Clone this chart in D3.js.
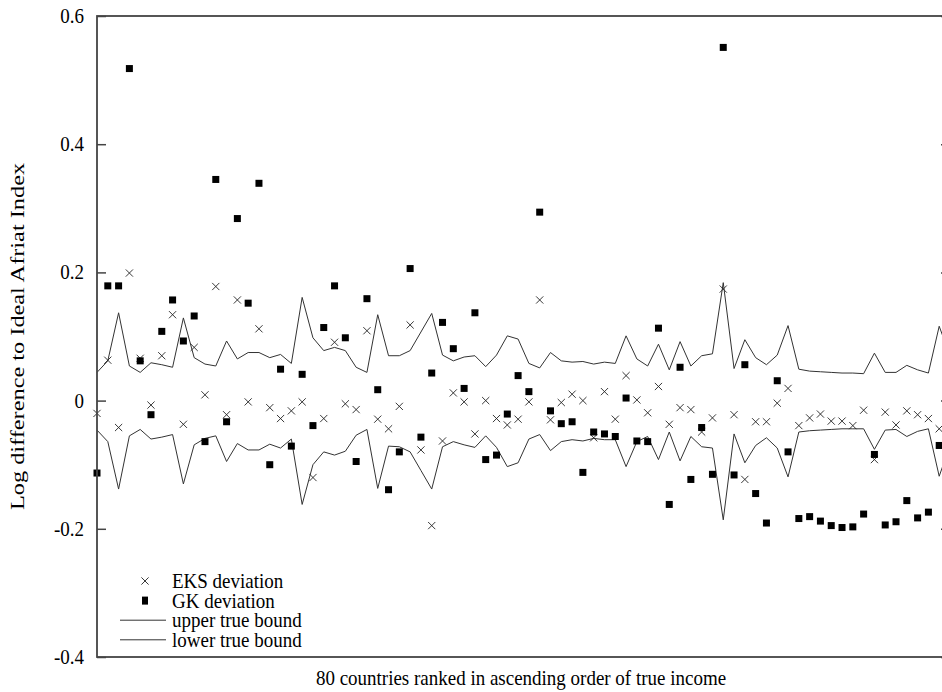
<!DOCTYPE html>
<html>
<head>
<meta charset="utf-8">
<script src="https://cdn.jsdelivr.net/npm/d3@7"></script>
<style>
    body { margin: 0; background: white; }
    svg { display: block; }
</style>
</head>
<body>
<div id="viz"></div>
<script>
// data, one value per country (1..80)
const eks_deviation = [
    -0.020, 0.063, -0.042, 0.199, 0.066, -0.007, 0.070, 0.134, -0.037, 0.083,
    0.009, 0.178, -0.022, 0.157, -0.002, 0.112, -0.011, -0.028, -0.016, -0.002,
    -0.120, -0.028, 0.091, -0.005, -0.014, 0.109, -0.029, -0.044, -0.009, 0.118,
    -0.077, -0.195, -0.063, 0.012, -0.002, -0.052, 0.000, -0.028, -0.038, -0.029,
    -0.002, 0.157, -0.030, -0.003, 0.010, 0.000, -0.058, 0.014, -0.029, 0.039,
    0.001, -0.019, 0.022, -0.037, -0.011, -0.014, -0.049, -0.027, 0.174, -0.022,
    -0.123, -0.033, -0.033, -0.004, 0.019, -0.039, -0.027, -0.021, -0.032, -0.032,
    -0.039, -0.015, -0.092, -0.018, -0.038, -0.016, -0.022, -0.028, -0.044, -0.030
];
const gk_deviation = [
    -0.113, 0.179, 0.179, 0.518, 0.062, -0.022, 0.108, 0.157, 0.093, 0.132,
    -0.064, 0.345, -0.033, 0.284, 0.152, 0.339, -0.100, 0.049, -0.071, 0.041,
    -0.039, 0.114, 0.179, 0.098, -0.095, 0.159, 0.017, -0.139, -0.080, 0.206,
    -0.057, 0.043, 0.122, 0.081, 0.019, 0.137, -0.092, -0.085, -0.021, 0.039,
    0.014, 0.294, -0.016, -0.036, -0.033, -0.112, -0.049, -0.052, -0.056, 0.004,
    -0.063, -0.064, 0.113, -0.162, 0.052, -0.123, -0.042, -0.115, 0.551, -0.116,
    0.056, -0.145, -0.191, 0.031, -0.080, -0.184, -0.181, -0.188, -0.195, -0.198,
    -0.197, -0.177, -0.084, -0.194, -0.189, -0.156, -0.183, -0.174, -0.070, -0.190
];
const upper_bound = [
    0.044, 0.062, 0.137, 0.054, 0.044, 0.059, 0.056, 0.052, 0.129, 0.067,
    0.057, 0.054, 0.093, 0.065, 0.075, 0.075, 0.067, 0.072, 0.058, 0.161,
    0.098, 0.078, 0.083, 0.078, 0.052, 0.044, 0.134, 0.070, 0.070, 0.078,
    0.107, 0.136, 0.071, 0.062, 0.068, 0.070, 0.053, 0.071, 0.101, 0.096,
    0.058, 0.051, 0.075, 0.062, 0.060, 0.061, 0.057, 0.060, 0.058, 0.101,
    0.065, 0.054, 0.088, 0.048, 0.092, 0.054, 0.070, 0.073, 0.184, 0.050,
    0.095, 0.067, 0.056, 0.071, 0.117, 0.049, 0.046, 0.045, 0.044, 0.043,
    0.043, 0.042, 0.074, 0.044, 0.044, 0.055, 0.048, 0.043, 0.116, 0.070
];
const lower_bound = [
    -0.046, -0.064, -0.138, -0.055, -0.045, -0.060, -0.057, -0.053, -0.130, -0.069,
    -0.059, -0.055, -0.095, -0.067, -0.077, -0.077, -0.068, -0.074, -0.060, -0.162,
    -0.100, -0.080, -0.085, -0.079, -0.054, -0.045, -0.137, -0.071, -0.072, -0.080,
    -0.109, -0.138, -0.072, -0.064, -0.069, -0.073, -0.055, -0.073, -0.103, -0.097,
    -0.060, -0.053, -0.078, -0.064, -0.061, -0.063, -0.059, -0.061, -0.061, -0.103,
    -0.064, -0.056, -0.092, -0.049, -0.094, -0.056, -0.072, -0.074, -0.186, -0.052,
    -0.097, -0.070, -0.058, -0.074, -0.119, -0.049, -0.047, -0.046, -0.045, -0.044,
    -0.044, -0.044, -0.076, -0.046, -0.045, -0.056, -0.048, -0.044, -0.118, -0.070
];
const y_ticks = [-0.4, -0.2, 0, 0.2, 0.4, 0.6];
const y_tick_labels = ["-0.4", "-0.2", "0", "0.2", "0.4", "0.6"];
const legend_labels = ["EKS deviation", "GK deviation", "upper true bound", "lower true bound"];

// layout
const width_svg = 942;
const height_svg = 692;
const margin = { left: 97, top: 16, right: -8, bottom: 35 };
const width = width_svg - margin.left - margin.right;
const height = height_svg - margin.top - margin.bottom;
const frame_color = "#444";
const mark_color = "#222";
const font = '"Liberation Serif", "Times New Roman", Times, serif';
const font_size = "19px";
const stretch = 1.12;        // text in the reference is a bit tall and narrow
const stretch_title = 1.28;  // y title runs longer than the others

const svg = d3.select("#viz")
    .append("svg")
        .attr("width", width_svg)
        .attr("height", height_svg);

const g = svg.append("g")
    .attr("transform", `translate(${margin.left}, ${margin.top})`);

const countries = d3.range(1, eks_deviation.length + 1);

const x = d3.scaleLinear()
    .domain([1, countries.length])
    .range([0, width]);

const y = d3.scaleLinear()
    .domain([-0.4, 0.6])
    .range([height, 0]);

// y axis, ticks inward on both sides
g.append("g")
    .call(d3.axisLeft(y)
        .tickValues(y_ticks)
        .tickSize(-9)
        .tickFormat(""))
    .call(a => a.select(".domain").remove())
    .call(a => a.selectAll("line").attr("stroke", frame_color).attr("stroke-width", 1.5));

g.append("g")
    .attr("transform", `translate(${width}, 0)`)
    .call(d3.axisRight(y)
        .tickValues(y_ticks)
        .tickSize(-9)
        .tickFormat(""))
    .call(a => a.select(".domain").remove())
    .call(a => a.selectAll("line").attr("stroke", frame_color).attr("stroke-width", 1.5));

g.append("g")
    .selectAll("text")
    .data(y_ticks)
    .join("text")
        .attr("transform", d => `translate(-13, ${y(d)}) scale(1, ${stretch})`)
        .attr("dy", "0.33em")
        .attr("text-anchor", "end")
        .style("font-family", font)
        .style("font-size", font_size)
        .text((d, i) => y_tick_labels[i]);

// bounds
const line_bound = d3.line()
    .x((d, i) => x(countries[i]))
    .y(d => y(d));

g.append("path")
    .datum(upper_bound)
    .attr("d", line_bound)
    .attr("fill", "none")
    .attr("stroke", "#333")
    .attr("stroke-width", 1);

g.append("path")
    .datum(lower_bound)
    .attr("d", line_bound)
    .attr("fill", "none")
    .attr("stroke", "#333")
    .attr("stroke-width", 1);

// EKS crosses
const cross = 3.6;
const crossPath = (cx, cy) =>
    `M${cx - cross},${cy - cross}L${cx + cross},${cy + cross}M${cx - cross},${cy + cross}L${cx + cross},${cy - cross}`;

g.append("g")
    .selectAll("path")
    .data(eks_deviation)
    .join("path")
        .attr("d", (d, i) => crossPath(x(countries[i]), y(d)))
        .attr("stroke", mark_color)
        .attr("stroke-width", 0.9)
        .attr("fill", "none");

// GK squares
const sq = 7;
g.append("g")
    .selectAll("rect")
    .data(gk_deviation)
    .join("rect")
        .attr("x", (d, i) => x(countries[i]) - sq / 2)
        .attr("y", d => y(d) - sq / 2)
        .attr("width", sq)
        .attr("height", sq)
        .attr("fill", "black");

// frame
g.append("rect")
    .attr("x", 0)
    .attr("y", 0)
    .attr("width", width)
    .attr("height", height)
    .attr("fill", "none")
    .attr("stroke", frame_color)
    .attr("stroke-width", 1.8);

// axis titles
svg.append("text")
    .attr("transform", `translate(24, ${margin.top + height / 2}) rotate(-90) scale(${stretch_title}, 1)`)
    .attr("text-anchor", "middle")
    .style("font-family", font)
    .style("font-size", font_size)
    .text("Log difference to Ideal Afriat Index");

svg.append("text")
    .attr("transform", `translate(521, 685) scale(1, ${stretch})`)
    .attr("text-anchor", "middle")
    .style("font-family", font)
    .style("font-size", font_size)
    .text("80 countries ranked in ascending order of true income");

// legend
const legend_x = 120;
const legend_y = 581;
const legend_step = 19.6;
const legend = svg.append("g");

legend_labels.forEach((label, i) => {
    const ly = legend_y + i * legend_step;
    const mid = legend_x + 25;
    if (i === 0) {
        legend.append("path")
            .attr("d", crossPath(mid, ly))
            .attr("stroke", mark_color)
            .attr("stroke-width", 0.9);
    } else if (i === 1) {
        legend.append("rect")
            .attr("x", mid - 3)
            .attr("y", ly - 4)
            .attr("width", 6)
            .attr("height", 8)
            .attr("fill", "black");
    } else {
        legend.append("line")
            .attr("x1", legend_x)
            .attr("x2", legend_x + 46)
            .attr("y1", ly)
            .attr("y2", ly)
            .attr("stroke", "#333")
            .attr("stroke-width", 1);
    }
    legend.append("text")
        .attr("transform", `translate(${legend_x + 52}, ${ly}) scale(1, ${stretch})`)
        .attr("dy", "0.33em")
        .style("font-family", font)
        .style("font-size", font_size)
        .text(label);
});
</script>
</body>
</html>
